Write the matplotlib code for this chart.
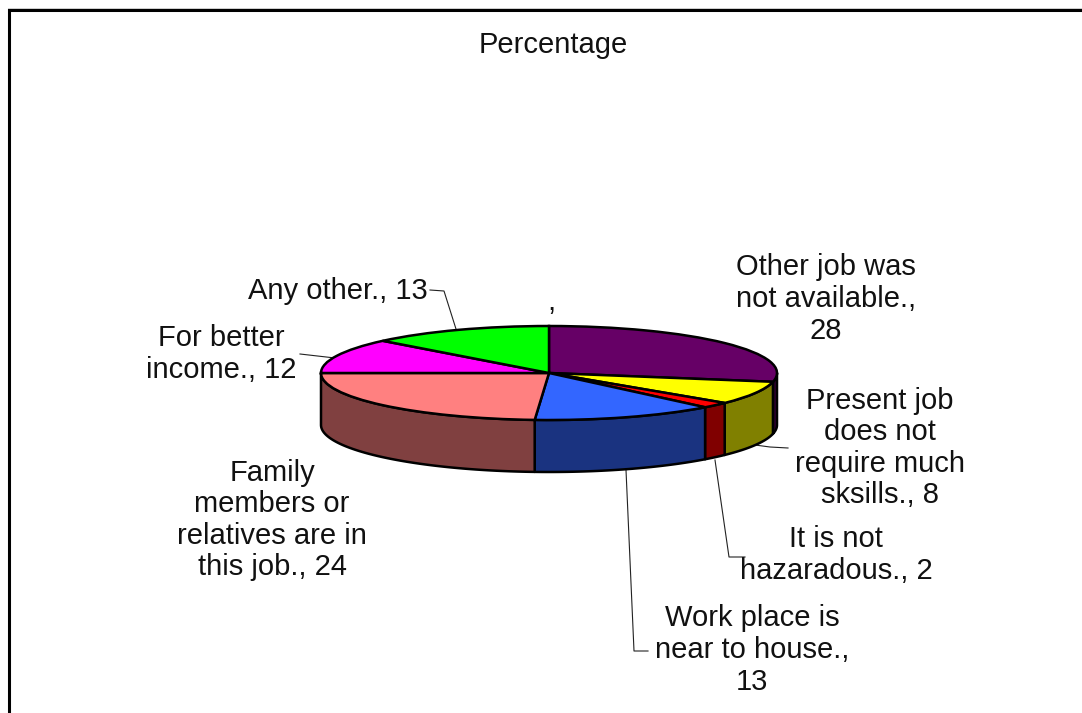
import numpy as np
import matplotlib
matplotlib.use('Agg')
import matplotlib.pyplot as plt

plt.rcParams['font.family'] = ['Liberation Sans', 'DejaVu Sans']

# Datos del grafico
valores = [28, 8, 2, 13, 24, 12, 13]
nombres = ['Other job was\nnot available.,\n28', 'Present job\ndoes not\nrequire much\nsksills., 8',
           'It is not\nhazaradous., 2', 'Work place is\nnear to house.,\n13',
           'Family\nmembers or\nrelatives are in\nthis job., 24', 'For better\nincome., 12',
           'Any other., 13']
colores = ['#660066', '#FFFF00', '#FF0000', '#3366FF', '#FF8080', '#FF00FF', '#00FF00']
laterales = ['#330033', '#808000', '#800000', '#1A3380', '#804040', '#800080', '#008000']

# Posicion de cada etiqueta en pixeles
pos_x = [826, 880, 836, 752, 272, 221, 338]
pos_y = [299, 448, 555, 650, 520, 354, 291]

# Lineas guia de las etiquetas
guias = [([788, 770, 755], [448, 447, 445]),
         ([715, 729, 745], [460, 557, 557]),
         ([626, 634, 648], [470, 651, 651]),
         ([300, 335], [354, 358]),
         ([430, 444, 456], [290, 291, 329])]

W, H = 1082, 713
fig = plt.figure(figsize=(W/100, H/100), dpi=100)

# Ejes de fondo en pixeles
fondo = fig.add_axes([0, 0, 1, 1])
fondo.set_xlim(0, W)
fondo.set_ylim(H, 0)
fondo.axis('off')

# Borde del grafico
fondo.plot([9, 9, W], [H, 10, 10], color='black', lw=2.2, solid_joinstyle='miter')
fondo.plot([8, W], [8, 8], color='#cccccc', lw=0.7)

fondo.text(553, 45, 'Percentage', ha='center', va='center', fontsize=21, color='#111111')
fondo.text(551, 302, ',', ha='center', va='center', fontsize=21, color='#111111')

for x, y, t in zip(pos_x, pos_y, nombres):
    fondo.text(x, y, t, ha='center', va='center', fontsize=21, linespacing=1.16, color='#111111')

for gx, gy in guias:
    fondo.plot(gx, gy, color='#222222', lw=0.8)

# Ejes de la torta: elipse de 228 x 47 pixeles
cx, cy, rx, ry, prof = 549, 373, 228, 47, 52
ax = fig.add_axes([(cx-rx)/W, 1-(cy+ry)/H, 2*rx/W, 2*ry/H])
ax.patch.set_alpha(0)

# Pared lateral de la parte visible
acum = np.cumsum([0] + valores) * 360 / sum(valores)
for i in range(len(valores)):
    a0 = max(acum[i], 90)
    a1 = min(acum[i+1], 270)
    if a1 <= a0:
        continue
    t = np.radians(np.linspace(a0, a1, 80))
    xs = np.sin(t)
    ys = np.cos(t)
    ax.fill(np.r_[xs, xs[::-1]], np.r_[ys, ys[::-1] - prof/ry], facecolor=laterales[i],
            edgecolor='black', lw=1.8, clip_on=False, joinstyle='round')

ax.pie(valores, colors=colores, startangle=90, counterclock=False, radius=1,
       wedgeprops={'edgecolor': 'black', 'linewidth': 1.8, 'clip_on': False})
ax.set_aspect('auto')
ax.set_xlim(-1, 1)
ax.set_ylim(-1, 1)
ax.axis('off')

fig.savefig('out.png', dpi=100)
